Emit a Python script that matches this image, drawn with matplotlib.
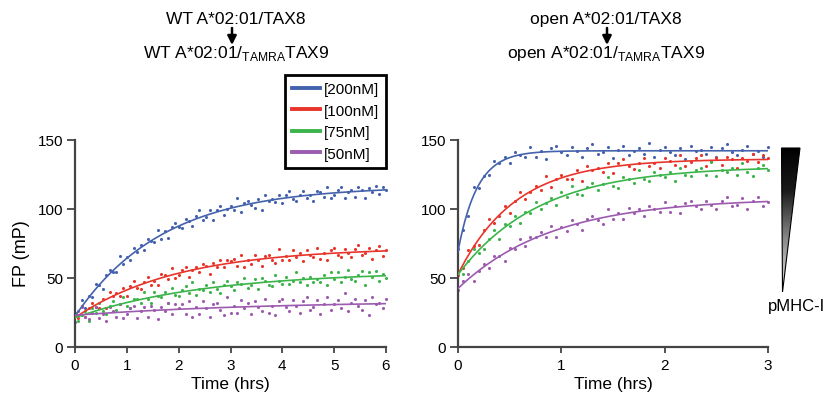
import numpy as np
import matplotlib
matplotlib.use("Agg")
import matplotlib.pyplot as plt
from matplotlib.patches import Polygon
from matplotlib.lines import Line2D
from matplotlib.colors import LinearSegmentedColormap

plt.rcParams['font.family'] = ['Liberation Sans', 'DejaVu Sans']
plt.rcParams['mathtext.fontset'] = 'custom'
plt.rcParams['mathtext.rm'] = 'Liberation Sans'

# ---------------------------------------------------------------- data
concentrations = ['[200nM]', '[100nM]', '[75nM]', '[50nM]']
colors = ['#4462ad', '#e8352b', '#3bb54a', '#9d5bb0']

# WT A*02:01 exchange, one reading every 4 min for 6 h
wt_time_hr = np.linspace(0, 6, 91)
wt_200 = [25, 23, 34, 28, 37, 36, 46, 45, 42, 52, 56, 54, 54, 66, 60, 65, 63, 72, 69, 74,
          70, 78, 77, 76, 85, 78, 84, 79, 87, 90, 87, 86, 93, 91, 88, 95, 99, 92, 94, 99,
          92, 99, 102, 96, 100, 102, 99, 108, 98, 104, 106, 103, 101, 107, 99, 110, 106, 107, 105, 110,
          104, 110, 113, 107, 106, 110, 113, 108, 110, 106, 113, 112, 109, 116, 108, 110, 114, 116, 108, 112,
          114, 109, 116, 114, 108, 115, 112, 117, 111, 116, 114]
wt_100 = [23, 21, 30, 22, 28, 32, 29, 28, 35, 28, 40, 37, 39, 37, 43, 37, 44, 48, 43, 42,
          47, 51, 45, 48, 45, 53, 52, 49, 57, 50, 52, 56, 58, 51, 56, 58, 54, 60, 59, 53,
          61, 58, 63, 58, 63, 62, 64, 59, 67, 58, 63, 60, 67, 63, 59, 66, 67, 63, 61, 71,
          63, 66, 63, 70, 65, 68, 62, 70, 67, 65, 72, 64, 68, 63, 70, 72, 67, 65, 71, 68,
          65, 71, 74, 67, 68, 72, 64, 70, 73, 66, 70]
wt_75 = [25, 19, 23, 26, 19, 28, 25, 32, 26, 24, 30, 33, 27, 31, 36, 30, 28, 35, 35, 32,
         40, 35, 32, 40, 37, 36, 40, 32, 43, 38, 37, 41, 44, 39, 47, 38, 42, 41, 45, 40,
         47, 42, 39, 45, 48, 44, 41, 47, 46, 50, 43, 45, 49, 42, 50, 48, 45, 44, 52, 48,
         46, 51, 46, 48, 54, 47, 50, 45, 51, 47, 49, 47, 52, 45, 54, 49, 54, 47, 51, 56,
         49, 48, 52, 55, 45, 54, 51, 55, 48, 53, 50]
wt_50 = [18, 26, 29, 22, 20, 25, 29, 21, 24, 19, 29, 26, 22, 31, 21, 24, 28, 30, 21, 26,
         29, 22, 30, 27, 20, 29, 26, 32, 24, 31, 28, 31, 24, 33, 22, 29, 24, 33, 28, 22,
         31, 32, 27, 23, 36, 25, 30, 25, 34, 28, 32, 24, 33, 29, 26, 35, 25, 30, 23, 33,
         35, 29, 26, 34, 30, 25, 33, 36, 27, 29, 34, 24, 31, 36, 27, 31, 34, 28, 39, 26,
         32, 35, 30, 27, 34, 23, 36, 31, 32, 28, 35]

# open A*02:01 exchange, one reading every 3 min for 3 h
open_time_hr = np.linspace(0, 3, 61)
open_200 = [71, 85, 95, 116, 115, 124, 125, 135, 133, 138, 133, 141, 139, 138, 145, 138, 142, 136, 144, 146,
            141, 139, 145, 142, 138, 144, 147, 140, 141, 145, 137, 143, 146, 139, 142, 144, 140, 148, 138, 143,
            145, 141, 139, 144, 136, 146, 142, 143, 140, 145, 138, 144, 147, 141, 139, 143, 146, 140, 142, 138, 145]
open_100 = [52, 57, 70, 73, 74, 85, 93, 90, 95, 102, 97, 106, 112, 107, 112, 117, 114, 124, 116, 122,
            125, 122, 122, 128, 120, 131, 128, 130, 127, 133, 126, 133, 136, 131, 129, 133, 137, 131, 133, 130,
            137, 135, 132, 139, 131, 134, 137, 139, 131, 135, 137, 132, 138, 136, 130, 137, 135, 140, 134, 139, 137]
open_75 = [55, 53, 62, 71, 68, 71, 78, 85, 78, 89, 88, 95, 90, 98, 97, 105, 100, 104, 108, 103,
           112, 109, 117, 111, 110, 116, 119, 114, 118, 123, 117, 115, 123, 122, 119, 128, 122, 120, 127, 125,
           123, 127, 120, 130, 125, 124, 128, 130, 125, 134, 124, 128, 127, 130, 125, 133, 127, 124, 130, 132, 128]
open_50 = [41, 48, 53, 48, 55, 60, 57, 66, 66, 62, 72, 71, 78, 73, 80, 80, 83, 80, 88, 80,
           87, 84, 92, 89, 85, 93, 95, 92, 89, 100, 93, 97, 93, 101, 97, 100, 95, 102, 100, 98,
           105, 98, 102, 97, 104, 106, 102, 100, 106, 103, 100, 106, 109, 102, 103, 108, 100, 106, 109, 102, 105]

x_ticks_wt = [0, 1, 2, 3, 4, 5, 6]
x_ticks_open = [0, 1, 2, 3]
y_ticks = [0, 50, 100, 150]


# ---------------------------------------------------------------- helpers
def fit_association(t, y):
    """Least-squares one-phase association: y = y0 + span * (1 - exp(-k t))."""
    t = np.asarray(t, float)
    y = np.asarray(y, float)
    best = None
    for k in np.geomspace(0.02, 30, 2500):
        A = np.column_stack([np.ones_like(t), 1 - np.exp(-k * t)])
        coef, *_ = np.linalg.lstsq(A, y, rcond=None)
        sse = np.sum((A @ coef - y) ** 2)
        if best is None or sse < best[0]:
            best = (sse, coef[0], coef[1], k)
    return best[1:]


def style_axes(ax, xticks, xmax):
    ax.set_xlim(0, xmax)
    ax.set_ylim(0, 150)
    for side in ('top', 'right'):
        ax.spines[side].set_visible(False)
    for side in ('left', 'bottom'):
        ax.spines[side].set_color('#444444')
        ax.spines[side].set_linewidth(1.6)
    ax.set_xticks(xticks)
    ax.set_yticks(y_ticks)
    ax.tick_params(axis='y', direction='out', length=6, width=1.3, color='#444444',
                   pad=2.5, labelsize=11, labelcolor='black')
    ax.tick_params(axis='x', direction='out', length=4, width=1.3, color='#444444',
                   pad=4, labelsize=11, labelcolor='black')
    ax.patch.set_alpha(0)


def draw_panel(ax, t, series, xmax):
    t_fine = np.linspace(0, xmax, 400)
    for y, c in zip(series, colors):
        ax.scatter(t, y, s=5, color=c, linewidths=0, zorder=2, clip_on=False)
        y0, span, k = fit_association(t, y)
        ax.plot(t_fine, y0 + span * (1 - np.exp(-k * t_fine)), color=c, lw=1.2, zorder=3)


# ---------------------------------------------------------------- figure
W, H = 825, 402
fig = plt.figure(figsize=(W / 100, H / 100), dpi=100)

ax1 = fig.add_axes([75 / W, 54 / H, 311 / W, 207 / H])
ax2 = fig.add_axes([458 / W, 54 / H, 310 / W, 207 / H])

draw_panel(ax1, wt_time_hr, [wt_200, wt_100, wt_75, wt_50], 6)
draw_panel(ax2, open_time_hr, [open_200, open_100, open_75, open_50], 3)
style_axes(ax1, x_ticks_wt, 6)
style_axes(ax2, x_ticks_open, 3)

# pixel-space overlay for titles, arrows and the gradient wedge
ov = fig.add_axes([0, 0, 1, 1], zorder=10)
ov.set_xlim(0, W)
ov.set_ylim(H, 0)
ov.axis('off')

ov.text(22, 254, 'FP (mP)', rotation=90, ha='center', va='center', fontsize=13)
ov.text(230, 385, 'Time (hrs)', ha='center', va='center', fontsize=12.5)
ov.text(613, 385, 'Time (hrs)', ha='center', va='center', fontsize=12.5)

titles = [
    (236, 'WT A*02:01/TAX8', r'WT A*02:01/$_{\mathregular{TAMRA}}$TAX9', 232),
    (606, 'open A*02:01/TAX8', r'open A*02:01/$_{\mathregular{TAMRA}}$TAX9', 607),
]
for xc, line1, line2, xa in titles:
    ov.text(xc, 24, line1, ha='center', va='baseline', fontsize=12.5)
    ov.text(xc, 58, line2, ha='center', va='baseline', fontsize=12.5)
    ov.annotate('', xy=(xa, 46), xytext=(xa, 29),
                arrowprops=dict(arrowstyle='-|>', color='black', lw=1.8,
                                mutation_scale=13, shrinkA=0, shrinkB=0))

# gradient wedge (pMHC-I amount)
tri = [(781.5, 149), (800, 149), (782.5, 293)]
grad_cmap = LinearSegmentedColormap.from_list('wedge', ['#000000', '#1a1a1a', '#8a8a8a', '#e8e8e8'])
grad = np.linspace(0, 1, 256)[:, None] ** 0.9
img = ov.imshow(grad, cmap=grad_cmap, aspect='auto', extent=(781, 801, 293, 149),
                interpolation='bilinear', zorder=1)
poly = Polygon(tri, closed=True, facecolor='none', edgecolor='black', lw=0.8, zorder=2)
ov.add_patch(poly)
img.set_clip_path(poly)
ov.set_xlim(0, W)
ov.set_ylim(H, 0)
ov.text(797, 307, 'pMHC-I', ha='center', va='center', fontsize=12)

# legend
handles = [Line2D([0], [0], color=c, lw=2.8) for c in colors]
leg = fig.legend(handles, concentrations, loc='upper left',
                 bbox_to_anchor=(285 / W, 1 - 76 / H), bbox_transform=fig.transFigure,
                 fontsize=11, frameon=True, fancybox=False, edgecolor='black',
                 framealpha=1, handlelength=1.85, handletextpad=0.25,
                 labelspacing=0.5, borderpad=0.45, borderaxespad=0)
leg.get_frame().set_linewidth(2)
leg.set_zorder(20)

fig.savefig('out.png', dpi=100)
